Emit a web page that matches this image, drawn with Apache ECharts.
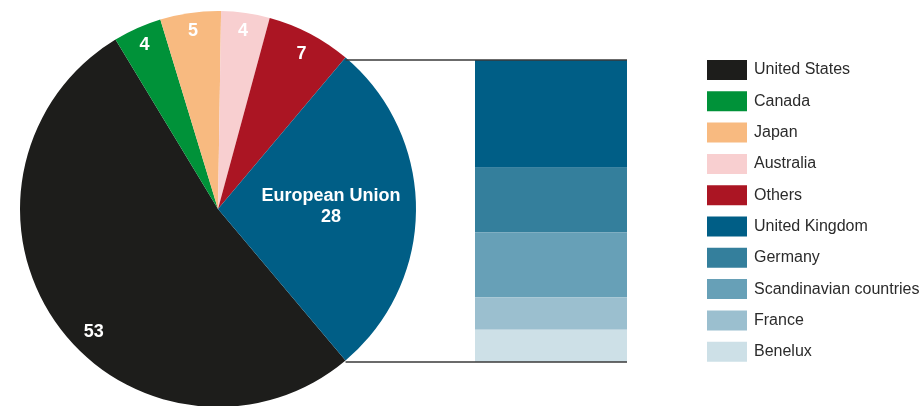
<!DOCTYPE html>
<html>
<head>
<meta charset="utf-8">
<script src="https://cdn.jsdelivr.net/npm/echarts@6/dist/echarts.min.js"></script>
<style>
  html, body { margin: 0; padding: 0; background: #fff; }
  #chart { width: 919px; height: 406px; }
</style>
</head>
<body>
<div id="chart"></div>
<script>
// Pie: world shares, clockwise from United States
const regions = ['United States', 'Canada', 'Japan', 'Australia', 'Others', 'European Union'];
const regionValues = [53, 4, 5, 4, 7, 28];
const regionColors = ['#1d1d1b', '#009239', '#f8ba80', '#f8cfd0', '#ab1523', '#005e86'];

// EU breakdown column, top to bottom
const euParts = ['United Kingdom', 'Germany', 'Scandinavian countries', 'France', 'Benelux'];
const euValues = [10, 6, 6, 3, 3];
const euColors = ['#005e86', '#347f9c', '#67a0b7', '#9bbfcf', '#cde0e7'];

const legendNames = regions.slice(0, 5).concat(euParts);

// layout
const cx = 218, cy = 209, R = 198;
const barLeft = 475, barTop = 60, barW = 152, barH = 302;
// hand nudges for a couple of labels that sit off the slice middle
const labelNudge = { 'United States': [22, 18], 'Others': [0, 5] };

const total = regionValues.reduce((a, b) => a + b, 0);
const euIdx = regions.indexOf('European Union');
const before = regionValues.slice(0, euIdx).reduce((a, b) => a + b, 0);
// put the EU slice centred on 3 o'clock
const euMidFrac = (before + regionValues[euIdx] / 2) / total;
const startAngle = euMidFrac * 360; // ECharts: ccw from 3 o'clock, slices go clockwise

// EU slice edge points for the connector lines
function edgePoint(frac) {
  const a = (startAngle - frac * 360) * Math.PI / 180;
  return [cx + R * Math.cos(a), cy - R * Math.sin(a)];
}
const euTop = edgePoint(before / total);
const euBottom = edgePoint((before + regionValues[euIdx]) / total);

const font = '"Liberation Sans", Arial, sans-serif';

const pieData = regions.map((n, i) => ({ name: n, value: regionValues[i], itemStyle: { color: regionColors[i] } }));

const labelStyle = { color: '#fff', fontFamily: font, fontWeight: 'bold', fontSize: 18, lineHeight: 21 };

const chart = echarts.init(document.getElementById('chart'), null, { renderer: 'canvas' });

const series = [
  {
    type: 'pie',
    center: [cx, cy],
    radius: [0, R],
    startAngle: startAngle,
    data: pieData,
    label: { show: false },
    labelLine: { show: false },
    itemStyle: { borderWidth: 0 },
    silent: true,
    animation: false
  },
  {
    // outer-ring labels
    type: 'pie',
    center: [cx, cy],
    radius: [156, R],
    startAngle: startAngle,
    data: regions.map((n, i) => ({
      name: n, value: regionValues[i],
      label: { show: n !== 'European Union' }
    })),
    itemStyle: { color: 'rgba(0,0,0,0)' },
    label: Object.assign({ position: 'inside', formatter: '{c}' }, labelStyle),
    labelLine: { show: false },
    labelLayout: function (p) {
      const d = labelNudge[regions[p.dataIndex]];
      return d ? { dx: d[0], dy: d[1] } : {};
    },
    silent: true,
    animation: false
  },
  {
    // EU label closer to centre
    type: 'pie',
    center: [cx, cy],
    radius: [22, R],
    startAngle: startAngle,
    data: regions.map((n, i) => ({
      name: n, value: regionValues[i],
      label: { show: n === 'European Union' }
    })),
    itemStyle: { color: 'rgba(0,0,0,0)' },
    label: Object.assign({ position: 'inside', formatter: '{b}\n{c}' }, labelStyle),
    labelLine: { show: false },
    labelLayout: { dy: -2 },
    silent: true,
    animation: false
  }
];

euParts.forEach((n, i) => {
  series.push({
    type: 'bar',
    name: n,
    stack: 'eu',
    barWidth: '100%',
    data: [euValues[i]],
    itemStyle: { color: euColors[i], borderWidth: 0 },
    silent: true,
    animation: false
  });
});

chart.setOption({
  animation: false,
  textStyle: { fontFamily: font },
  grid: { left: barLeft, top: barTop, width: barW, height: barH, containLabel: false },
  xAxis: { type: 'category', data: ['EU'], show: false },
  yAxis: { type: 'value', min: 0, max: euValues.reduce((a, b) => a + b, 0), inverse: true, show: false },
  legend: {
    orient: 'vertical',
    left: 707,
    top: 60,
    padding: 0,
    itemWidth: 40,
    itemHeight: 20,
    itemGap: 11.3,
    icon: 'rect',
    selectedMode: false,
    data: legendNames,
    textStyle: { fontFamily: font, fontSize: 16, color: '#2b2b2b', padding: [0, 0, 0, 2] }
  },
  series: series,
  graphic: [
    {
      type: 'line', z: 100,
      shape: { x1: euTop[0], y1: barTop, x2: barLeft + barW, y2: barTop },
      style: { stroke: '#3a3a3a', lineWidth: 1.5 }
    },
    {
      type: 'line', z: 100,
      shape: { x1: euBottom[0], y1: barTop + barH, x2: barLeft + barW, y2: barTop + barH },
      style: { stroke: '#3a3a3a', lineWidth: 1.5 }
    }
  ]
});
</script>
</body>
</html>
